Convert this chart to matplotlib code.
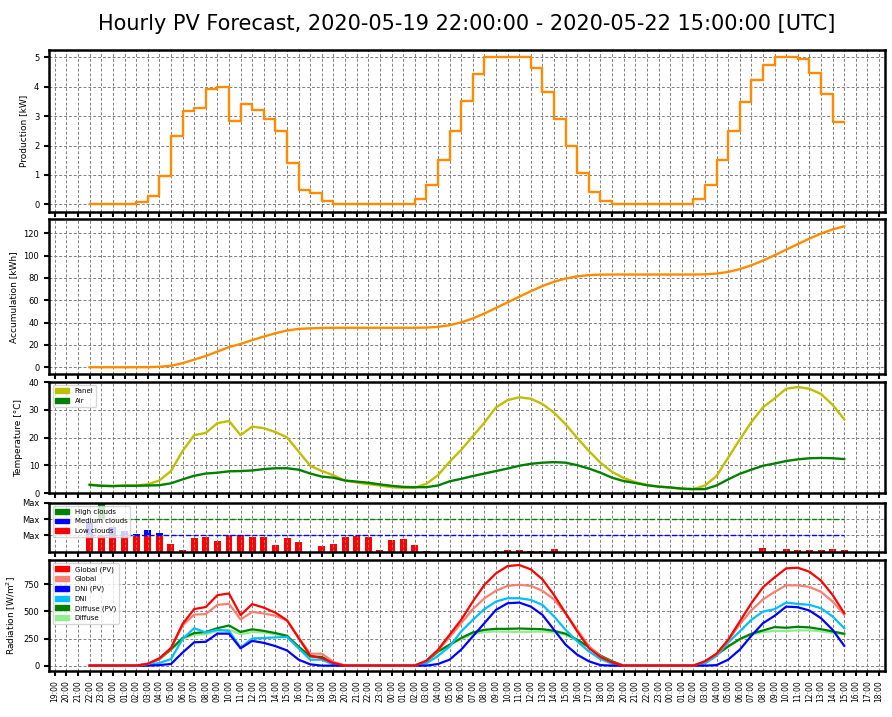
import matplotlib
matplotlib.use("Agg")
import matplotlib.pyplot as plt
import matplotlib.dates as mdates
from matplotlib.patches import Patch
from matplotlib.ticker import MultipleLocator
import numpy as np
import pandas as pd

# hourly timestamps of the forecast (UTC)
times = pd.date_range("2020-05-19 22:00", "2020-05-22 15:00", freq="h")
tick_times = pd.date_range("2020-05-19 19:00", "2020-05-22 18:00", freq="h")

production = [0, 0, 0, 0, 0,
              0.07, 0.3, 0.95, 2.32, 3.17, 3.27, 3.93, 4.0, 2.83, 3.43, 3.22, 2.92, 2.5, 1.42, 0.5, 0.4, 0.1,
              0, 0, 0, 0, 0, 0, 0,
              0.19, 0.65, 1.5, 2.51, 3.5, 4.42, 5.0, 5.0, 5.0, 5.0, 4.64, 3.81, 2.9, 1.98, 1.07, 0.42, 0.1,
              0, 0, 0, 0, 0, 0, 0,
              0.2, 0.65, 1.5, 2.49, 3.47, 4.23, 4.74, 5.0, 5.0, 4.93, 4.47, 3.74, 2.8]

accumulation = [0, 0, 0, 0, 0,
                0.07, 0.37, 1.32, 3.64, 6.81, 10.08, 14.01, 18.01, 20.84, 24.27, 27.49, 30.41, 32.91, 34.33, 34.83, 35.23, 35.33,
                35.33, 35.33, 35.33, 35.33, 35.33, 35.33, 35.33,
                35.52, 36.17, 37.67, 40.18, 43.68, 48.10, 53.10, 58.10, 63.10, 68.10, 72.74, 76.55, 79.45, 81.43, 82.50, 82.92, 83.02,
                83.02, 83.02, 83.02, 83.02, 83.02, 83.02, 83.02,
                83.22, 83.87, 85.37, 87.86, 91.33, 95.56, 100.30, 105.30, 110.30, 115.23, 119.70, 123.44, 126.24]

temp_panel = [3.2, 2.7, 2.6, 2.8, 2.8, 3.2, 4.6, 8.0, 15.2, 20.9, 21.7, 25.2, 26.0, 20.9, 24.0, 23.4,
              22.0, 20.1, 15.0, 9.9, 8.0, 6.5, 4.5, 3.9, 3.3, 2.8, 2.2, 2.0, 2.0, 3.4, 6.5, 11.3,
              15.6, 20.5, 25.4, 30.9, 33.5, 34.5, 34.0, 32.1, 29.0, 24.8, 19.9, 15.2, 11.0, 7.7, 5.5, 4.0,
              3.0, 2.4, 2.1, 1.6, 1.5, 2.8, 6.2, 12.8, 19.3, 25.6, 30.9, 34.1, 37.6, 38.2, 37.6, 35.7, 31.8, 26.6]

temp_air = [3.0, 2.7, 2.6, 2.7, 2.7, 2.8, 2.9, 3.6, 5.0, 6.3, 7.1, 7.4, 7.9, 8.0, 8.2, 8.7,
            9.0, 9.0, 8.5, 7.1, 6.0, 5.6, 4.6, 4.2, 3.8, 3.2, 2.7, 2.3, 2.2, 2.2, 2.8, 4.3,
            5.2, 6.2, 7.1, 8.0, 8.9, 9.9, 10.6, 11.0, 11.2, 11.0, 10.1, 8.9, 7.4, 5.6, 4.4, 3.7,
            2.9, 2.4, 2.1, 1.7, 1.5, 1.5, 2.8, 5.0, 7.0, 8.5, 9.9, 10.7, 11.6, 12.2, 12.6, 12.7, 12.6, 12.3]

# cloud cover fractions (0..1)
clouds_low = [1.0, 1.0, 1.0, 1.0, 1.0, 1.0, 1.0, 0.46, 0.1, 0.83, 0.89, 0.65, 1.0, 1.0, 0.9, 0.88,
              0.4, 0.82, 0.6, 0, 0.34, 0.48, 0.88, 0.98, 0.88, 0.1, 0.7, 0.76, 0.4, 0.02, 0, 0,
              0, 0, 0, 0.02, 0.1, 0.1, 0.02, 0.02, 0.16, 0, 0, 0, 0, 0, 0, 0,
              0, 0, 0, 0, 0, 0, 0, 0, 0, 0, 0.22, 0.02, 0.16, 0.08, 0.08, 0.08, 0.14, 0.08]
clouds_medium = [0.85, 0, 0.5, 0.26, 0.1, 0.34, 0.16] + [0] * 59
clouds_high = [0, 1.0] + [0] * 64

rad_global_pv = [0, 0, 0, 0, 0, 18, 67, 162, 384, 521, 540, 649, 665, 466, 567, 534, 488, 418, 253, 91, 70, 24,
                 0, 0, 0, 0, 0, 0, 0,
                 45, 145, 284, 422, 590, 743, 850, 917, 927, 887, 795, 651, 483, 315, 162, 80, 30,
                 0, 0, 0, 0, 0, 0, 0,
                 40, 110, 238, 407, 575, 722, 813, 896, 902, 865, 783, 651, 483]
rad_global = [0, 0, 0, 0, 0, 15, 62, 160, 370, 470, 475, 560, 570, 425, 495, 480, 460, 415, 260, 110, 110, 35,
              0, 0, 0, 0, 0, 0, 0,
              45, 140, 260, 390, 520, 620, 690, 735, 745, 735, 690, 610, 480, 330, 180, 85, 30,
              0, 0, 0, 0, 0, 0, 0,
              40, 105, 230, 380, 510, 610, 680, 740, 740, 725, 680, 590, 470]
rad_dni_pv = [0, 0, 0, 0, 0, 0, 5, 15, 120, 215, 220, 295, 295, 160, 228, 210, 180, 140, 55, 12, 0, 0,
              0, 0, 0, 0, 0, 0, 0,
              0, 15, 55, 147, 269, 391, 514, 575, 581, 544, 468, 330, 193, 101, 40, 5, 0,
              0, 0, 0, 0, 0, 0, 0,
              0, 5, 55, 147, 275, 391, 459, 544, 538, 508, 437, 330, 183]
rad_dni = [0, 0, 0, 0, 0, 5, 25, 60, 245, 345, 305, 330, 320, 165, 250, 255, 260, 265, 160, 55, 55, 10,
           0, 0, 0, 0, 0, 0, 0,
           20, 90, 175, 315, 422, 520, 590, 621, 621, 605, 560, 453, 330, 223, 131, 61, 18,
           0, 0, 0, 0, 0, 0, 0,
           20, 90, 214, 315, 422, 498, 520, 581, 569, 560, 529, 453, 345]
rad_diffuse_pv = [0, 0, 0, 0, 0, 15, 60, 150, 255, 300, 310, 345, 370, 310, 335, 320, 300, 275, 175, 85, 80, 25,
                  0, 0, 0, 0, 0, 0, 0,
                  40, 130, 193, 254, 306, 330, 339, 339, 342, 339, 336, 321, 294, 239, 171, 92, 40,
                  0, 0, 0, 0, 0, 0, 0,
                  35, 100, 177, 245, 294, 324, 355, 349, 358, 352, 336, 315, 294]
rad_diffuse = [0, 0, 0, 0, 0, 15, 58, 145, 250, 285, 290, 320, 330, 290, 310, 305, 290, 265, 165, 85, 80, 25,
               0, 0, 0, 0, 0, 0, 0,
               40, 125, 190, 245, 290, 310, 315, 312, 310, 312, 315, 305, 285, 235, 170, 95, 40,
               0, 0, 0, 0, 0, 0, 0,
               35, 100, 175, 240, 285, 310, 320, 318, 325, 325, 318, 300, 290]

x = mdates.date2num(times.to_pydatetime())
xt = mdates.date2num(tick_times.to_pydatetime())

fig = plt.figure(figsize=(8.92, 7.17), dpi=100)
fig.text(0.523, 0.966, "Hourly PV Forecast, 2020-05-19 22:00:00 - 2020-05-22 15:00:00 [UTC]",
         ha="center", va="center", fontsize=15)

L, W = 0.055, 0.937
ax1 = fig.add_axes([L, 0.7047, W, 0.2255])
ax2 = fig.add_axes([L, 0.4780, W, 0.2162])
ax3 = fig.add_axes([L, 0.3120, W, 0.1552])
ax4 = fig.add_axes([L, 0.2305, W, 0.0683])
ax5 = fig.add_axes([L, 0.0646, W, 0.1544])
axes = [ax1, ax2, ax3, ax4, ax5]

ax1.plot(x, production, color="darkorange", lw=1.7, drawstyle="steps-pre")
ax1.set_ylabel("Production [kW]", fontsize=6.5)

ax2.plot(x, accumulation, color="darkorange", lw=1.7)
ax2.set_ylabel("Accumulation [kWh]", fontsize=6.5)

ax3.plot(x, temp_panel, color="y", lw=1.7)
ax3.plot(x, temp_air, color="g", lw=1.7)
ax3.set_ylim(0, 40)
ax3.set_ylabel("Temperature [°C]", fontsize=6.5)
ax3.legend(handles=[Patch(color="y", label="Panel"), Patch(color="g", label="Air")],
           loc="upper left", fontsize=5)

bw = 0.6 / 24
ax4.bar(x, clouds_low, width=bw, color="red")
ax4.bar(x, clouds_medium, width=bw, bottom=1, color="blue")
ax4.bar(x, clouds_high, width=bw, bottom=2, color="green")
ax4.hlines(1, x[0], x[-1], colors="blue", linestyles="--", lw=1)
ax4.hlines(2, x[0], x[-1], colors="green", linestyles="--", lw=1)
ax4.set_ylim(0, 3)
ax4.set_yticks([1, 2, 3])
ax4.set_yticklabels(["Max", "Max", "Max"])
ax4.legend(handles=[Patch(color="green", label="High clouds"),
                    Patch(color="blue", label="Medium clouds"),
                    Patch(color="red", label="Low clouds")],
           loc="upper left", fontsize=5)

rad = [(rad_global_pv, "red", "Global (PV)"), (rad_global, "salmon", "Global"),
       (rad_dni_pv, "blue", "DNI (PV)"), (rad_dni, "deepskyblue", "DNI"),
       (rad_diffuse_pv, "green", "Diffuse (PV)"), (rad_diffuse, "lightgreen", "Diffuse")]
for vals, col, lab in reversed(rad):
    ax5.plot(x, vals, color=col, lw=1.6)
ax5.yaxis.set_major_locator(MultipleLocator(250))
ax5.set_ylabel("Radiation [W/m$^2$]", fontsize=6.5)
ax5.legend(handles=[Patch(color=c, label=l) for v, c, l in rad], loc="upper left", fontsize=5)

for ax in axes:
    ax.set_xlim(x[0] - 3.5 / 24, x[-1] + 3.5 / 24)
    ax.set_xticks(xt)
    ax.xaxis.set_major_formatter(mdates.DateFormatter("%H:%M"))
    ax.grid(True, ls=(0, (3, 2)), lw=0.7, color="0.5")
    ax.tick_params(axis="both", labelsize=6, width=1.5, length=3.5)
    for s in ax.spines.values():
        s.set_linewidth(1.8)
    if ax is not ax5:
        ax.tick_params(axis="x", labelbottom=False)
ax5.tick_params(axis="x", labelrotation=90, labelsize=5.5)

fig.savefig("out.png", dpi=100)
